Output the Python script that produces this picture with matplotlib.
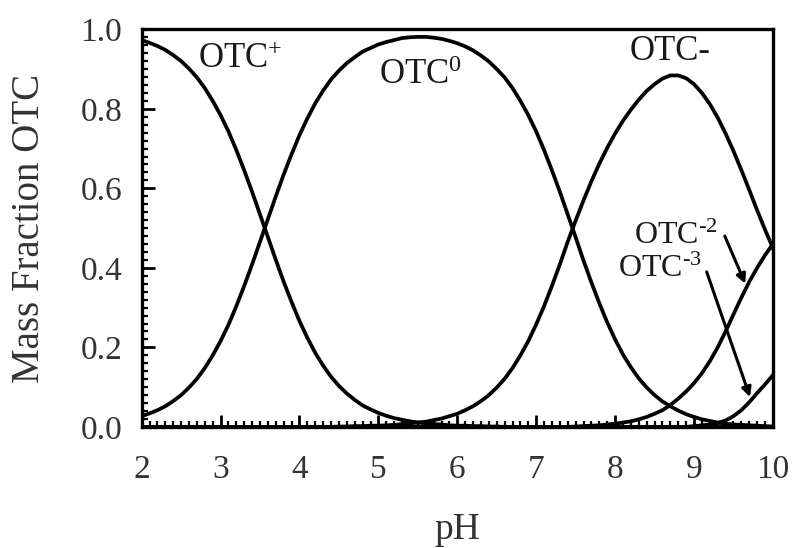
import numpy as np
import matplotlib
matplotlib.use("Agg")
from matplotlib import pyplot as plt
from matplotlib.ticker import MultipleLocator

plt.rcParams['font.family'] = ['Liberation Serif', 'DejaVu Serif']
plt.rcParams['mathtext.fontset'] = 'custom'
plt.rcParams['mathtext.rm'] = 'Liberation Serif'
plt.rcParams['mathtext.it'] = 'Liberation Serif'

# pH grid (0.1 steps) and mass fractions
ph = np.linspace(2, 10, 81)

otc_plus = [0.973, 0.966, 0.958, 0.948, 0.935, 0.920, 0.901, 0.879, 0.852, 0.820,
            0.784, 0.743, 0.696, 0.645, 0.591, 0.534, 0.477, 0.420, 0.365, 0.314,
            0.266, 0.224, 0.186, 0.154, 0.126, 0.103, 0.084, 0.068, 0.054, 0.044,
            0.035, 0.028, 0.022, 0.018, 0.014, 0.011, 0.009, 0.007, 0.006, 0.004,
            0.003, 0.003, 0.002, 0.002, 0.001, 0.001, 0.0, 0.0, 0.0, 0.0] + [0.0] * 31

otc_zero = [0.027, 0.034, 0.042, 0.052, 0.065, 0.080, 0.099, 0.121, 0.148, 0.180,
            0.216, 0.257, 0.304, 0.355, 0.409, 0.466, 0.523, 0.580, 0.635, 0.686,
            0.734, 0.776, 0.814, 0.846, 0.874, 0.896, 0.915, 0.930, 0.944, 0.953,
            0.962, 0.968, 0.973, 0.978, 0.980, 0.981, 0.981, 0.979, 0.976, 0.971,
            0.965, 0.957, 0.947, 0.934, 0.919, 0.900, 0.879, 0.852, 0.820, 0.784,
            0.743, 0.696, 0.645, 0.591, 0.534, 0.477, 0.418, 0.363, 0.311, 0.263,
            0.220, 0.182, 0.150, 0.122, 0.099, 0.080, 0.064, 0.052, 0.041, 0.032,
            0.025, 0.019, 0.015, 0.011, 0.008, 0.006, 0.005, 0.004, 0.003, 0.002,
            0.001]

otc_minus = [0.0] * 20 + [
    0.0, 0.0, 0.0, 0.0, 0.0, 0.001, 0.001, 0.002, 0.002, 0.003,
    0.003, 0.004, 0.005, 0.007, 0.009, 0.011, 0.013, 0.017, 0.021, 0.027,
    0.033, 0.042, 0.052, 0.065, 0.080, 0.099, 0.121, 0.148, 0.180, 0.216,
    0.258, 0.304, 0.355, 0.409, 0.466, 0.519, 0.570, 0.618, 0.662, 0.702,
    0.738, 0.770, 0.798, 0.823, 0.845, 0.862, 0.876, 0.884, 0.884, 0.877,
    0.862, 0.840, 0.812, 0.778, 0.738, 0.694, 0.646, 0.596, 0.545, 0.496,
    0.450]

otc_minus2 = [0.0] * 55 + [
    0.001, 0.002, 0.003, 0.004, 0.006,
    0.008, 0.011, 0.014, 0.019, 0.025, 0.033, 0.042, 0.055, 0.071, 0.089,
    0.110, 0.135, 0.165, 0.200, 0.240, 0.283, 0.325, 0.365, 0.400, 0.432,
    0.460]

otc_minus3 = [0.0] * 70 + [
    0.002, 0.004, 0.006, 0.010, 0.016, 0.027, 0.042, 0.062, 0.085, 0.107,
    0.130]

fig = plt.figure(figsize=(7.96, 5.48), dpi=100)
ax = fig.add_axes([0.178, 0.221, 0.793, 0.7255])

for y in (otc_plus, otc_zero, otc_minus, otc_minus2, otc_minus3):
    ax.plot(ph, y, color='black', lw=2.7, solid_joinstyle='round')

ax.set_xlim(2, 10)
ax.set_ylim(0, 1.0)

ax.xaxis.set_major_locator(MultipleLocator(1))
ax.xaxis.set_minor_locator(MultipleLocator(0.1))
ax.yaxis.set_major_locator(MultipleLocator(0.2))
ax.yaxis.set_minor_locator(MultipleLocator(0.02))
ax.yaxis.set_major_formatter(plt.FormatStrFormatter('%.1f'))

ax.tick_params(which='both', direction='in', top=False, right=False,
               colors='black', labelcolor='#333333', labelsize=24, width=2)
ax.tick_params(which='major', length=9)
ax.tick_params(which='minor', length=4, width=1.6)
ax.tick_params(axis='x', which='major', pad=20)
ax.tick_params(axis='y', which='major', pad=14)
for s in ax.spines.values():
    s.set_linewidth(2.4)

ax.set_xlabel('pH', fontsize=27, color='#333333', labelpad=20)
ax.set_ylabel('Mass Fraction OTC', fontsize=28, color='#333333', labelpad=23)

tc = '#1a1a1a'
ax.text(3.25, 0.925, r'OTC$^{+}$', fontsize=25, color=tc, ha='center', va='center')
ax.text(5.53, 0.885, r'OTC$^{0}$', fontsize=25, color=tc, ha='center', va='center')
ax.text(8.70, 0.945, 'OTC-', fontsize=25, color=tc, ha='center', va='center')
ax.text(8.77, 0.48, r'OTC$^{\text{-2}}$', fontsize=23, color=tc, ha='center', va='center')
ax.text(8.57, 0.395, r'OTC$^{\text{-3}}$', fontsize=23, color=tc, ha='center', va='center')

arrow = dict(arrowstyle='-|>', color='black', lw=2.2, mutation_scale=14,
             shrinkA=0, shrinkB=0)
ax.annotate('', xy=(9.65, 0.36), xytext=(9.39, 0.48), arrowprops=arrow)
ax.annotate('', xy=(9.71, 0.075), xytext=(9.16, 0.39), arrowprops=arrow)

plt.savefig('out.png', dpi=100)
